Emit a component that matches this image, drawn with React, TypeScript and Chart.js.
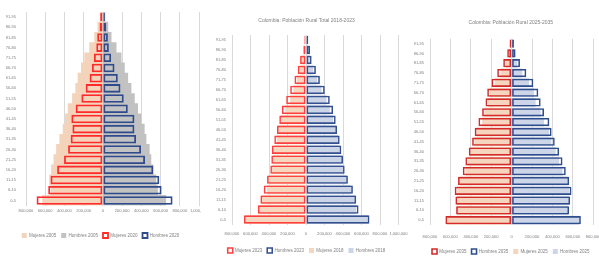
import React, { useEffect, useRef } from "react";
import { Chart, registerables } from "chart.js";

Chart.register(...registerables);

// ---------- shared categories (ascending, bottom to top) ----------
const AGE_GROUPS = [
  "0-5", "6-10", "11-15", "16-20", "21-25", "26-30", "31-35", "36-40", "41-45",
  "46-50", "51-55", "56-60", "61-65", "66-70", "71-75", "76-80", "81-85", "86-90", "91-95",
];

// ---------- chart 1 ----------
const C1_TITLE = "Colombia: Población Rural 2005-2020";
const C1_SERIES = ["Mujeres 2005", "Hombres 2005", "Mujeres 2020", "Hombres 2020"];
const C1_FILL_WOMEN = [628000, 540000, 555000, 535000, 510000, 483000, 449000, 414000, 390000, 362000, 317000, 283000, 259000, 224000, 190000, 138000, 86000, 52000, 24000];
const C1_FILL_MEN = [655000, 569000, 552000, 524000, 500000, 483000, 449000, 431000, 397000, 362000, 328000, 293000, 259000, 224000, 190000, 138000, 86000, 52000, 21000];
const C1_LINE_WOMEN = [690000, 569000, 545000, 476000, 404000, 362000, 335000, 317000, 328000, 283000, 224000, 179000, 138000, 114000, 93000, 69000, 59000, 35000, 28000];
const C1_LINE_MEN = [725000, 611000, 587000, 524000, 438000, 397000, 345000, 328000, 328000, 259000, 217000, 183000, 155000, 121000, 86000, 62000, 52000, 35000, 21000];

// ---------- chart 2 ----------
const C2_TITLE = "Colombia: Población Rural Total 2018-2023";
const C2_SERIES = ["Mujeres 2023", "Hombres 2023", "Mujeres 2018", "Hombres 2018"];
const C2_LINE_WOMEN = [671000, 521000, 493000, 457000, 421000, 386000, 375000, 368000, 343000, 314000, 289000, 261000, 214000, 171000, 125000, 89000, 64000, 29000, 18000];
const C2_LINE_MEN = [686000, 568000, 543000, 507000, 453000, 418000, 400000, 382000, 364000, 336000, 321000, 293000, 257000, 203000, 150000, 107000, 61000, 43000, 25000];
const C2_FILL_WOMEN = [653000, 511000, 482000, 421000, 403000, 368000, 357000, 343000, 314000, 296000, 268000, 225000, 171000, 136000, 100000, 64000, 46000, 18000, 11000];
const C2_FILL_MEN = [668000, 543000, 536000, 489000, 436000, 400000, 382000, 364000, 346000, 321000, 293000, 257000, 221000, 168000, 121000, 79000, 43000, 25000, 14000];

// ---------- chart 3 ----------
const C3_TITLE = "Colombia: Población Rural 2025-2035";
const C3_SERIES = ["Mujeres 2035", "Hombres 2035", "Mujeres 2025", "Hombres 2025"];
const C3_LINE_WOMEN = [649000, 544000, 551000, 558000, 525000, 479000, 453000, 420000, 387000, 362000, 325000, 289000, 256000, 239000, 197000, 141000, 82000, 43000, 20000];
const C3_LINE_MEN = [679000, 564000, 574000, 587000, 564000, 531000, 499000, 466000, 423000, 392000, 370000, 318000, 285000, 262000, 213000, 144000, 82000, 39000, 23000];
const C3_FILL_WOMEN = [633000, 535000, 535000, 535000, 508000, 453000, 426000, 403000, 364000, 344000, 289000, 266000, 230000, 213000, 164000, 108000, 59000, 26000, 10000];
const C3_FILL_MEN = [663000, 554000, 564000, 564000, 548000, 499000, 466000, 433000, 390000, 367000, 318000, 285000, 236000, 220000, 171000, 105000, 56000, 23000, 13000];

const FONT_FAMILY = "'Liberation Sans', Arial, sans-serif";
const TEXT_COLOR = "#808080";

type Def = { label: string; values: number[]; women: boolean; fill: boolean; color: string };
type Cfg = {
  boxLeft: number; boxWidth: number;
  canvasLeft: number; canvasTop: number; w: number; h: number;
  pad: { left: number; right: number; top: number; bottom: number };
  titleText: string; titlePad: { top: number; bottom: number };
  yw: number; yPad: number; xh: number; xPad: number;
  min: number; max: number;
  legendPad: number;
  defs: Def[];
  fillBar: number; lineBar: number; lineWidth: number;
};

function Pyramid({ cfg }: { cfg: Cfg }) {
  const ref = useRef<HTMLCanvasElement>(null);
  useEffect(() => {
    const tickFont = { family: FONT_FAMILY, size: 4.1 };
    const legendFont = { family: FONT_FAMILY, size: 4.5 };
    const yFont = { family: FONT_FAMILY, size: 4 };
    const datasets = cfg.defs.map((d) => ({
      label: d.label,
      data: d.values.map((v) => (d.women ? -v : v)),
      backgroundColor: d.fill ? d.color : "rgba(0,0,0,0)",
      borderColor: d.color,
      borderWidth: d.fill ? 0 : cfg.lineWidth,
      borderSkipped: false as const,
      grouped: false,
      categoryPercentage: 1,
      barPercentage: d.fill ? cfg.fillBar : cfg.lineBar,
      order: d.fill ? 2 : 1,
    }));
    const chart = new Chart(ref.current!, {
      type: "bar",
      data: { labels: AGE_GROUPS, datasets },
      options: {
        indexAxis: "y",
        responsive: false,
        animation: false,
        devicePixelRatio: 1,
        layout: { padding: cfg.pad },
        scales: {
          x: {
            min: cfg.min,
            max: cfg.max,
            afterFit: (s: any) => { s.height = cfg.xh; s.paddingLeft = 0; s.paddingRight = 0; },
            ticks: {
              stepSize: 200000,
              autoSkip: false,
              maxRotation: 0,
              padding: cfg.xPad,
              font: tickFont,
              color: TEXT_COLOR,
              callback: (v: any) => Math.abs(Number(v)).toLocaleString("en-US"),
            },
            grid: { color: "#d9d9d9", drawTicks: false, lineWidth: 1 },
            border: { display: false },
          },
          y: {
            reverse: true,
            afterFit: (s: any) => { s.width = cfg.yw; },
            ticks: { autoSkip: false, padding: cfg.yPad, font: yFont, color: TEXT_COLOR },
            grid: { display: false, drawTicks: false },
            border: { display: false },
          },
        },
        plugins: {
          tooltip: { enabled: false },
          title: {
            display: true,
            text: cfg.titleText,
            color: TEXT_COLOR,
            font: { family: FONT_FAMILY, size: 5, weight: "normal" },
            padding: cfg.titlePad,
          },
          legend: {
            position: "bottom",
            labels: {
              boxWidth: 5,
              boxHeight: 5,
              padding: cfg.legendPad,
              color: TEXT_COLOR,
              font: legendFont,
              sort: (a: any, b: any) => a.datasetIndex - b.datasetIndex,
            },
          },
        },
      },
    });
    return () => chart.destroy();
  }, [cfg]);
  return (
    <div style={{ position: "absolute", left: cfg.boxLeft, top: 0, width: cfg.boxWidth, height: 256, overflow: "hidden" }}>
      <canvas
        ref={ref}
        width={cfg.w}
        height={cfg.h}
        style={{ position: "absolute", left: cfg.canvasLeft, top: cfg.canvasTop, width: cfg.w, height: cfg.h }}
      />
    </div>
  );
}

const CFG1: Cfg = {
  boxLeft: 0, boxWidth: 201, canvasLeft: 0, canvasTop: -4, w: 215, h: 252,
  pad: { left: 2, right: 16, top: 0, bottom: 0 },
  titleText: C1_TITLE, titlePad: { top: 0, bottom: 10 },
  yw: 24, yPad: 10, xh: 22.5, xPad: 2.5,
  min: -800000, max: 1000000, legendPad: 5,
  defs: [
    { label: C1_SERIES[0], values: C1_FILL_WOMEN, women: true, fill: true, color: "#f4d3bb" },
    { label: C1_SERIES[1], values: C1_FILL_MEN, women: false, fill: true, color: "#c2c2c2" },
    { label: C1_SERIES[2], values: C1_LINE_WOMEN, women: true, fill: false, color: "#ff2a2a" },
    { label: C1_SERIES[3], values: C1_LINE_MEN, women: false, fill: false, color: "#2f4b8c" },
  ],
  fillBar: 1, lineBar: 0.84, lineWidth: 1.8,
};

const CFG2: Cfg = {
  boxLeft: 201, boxWidth: 207, canvasLeft: 0, canvasTop: 0, w: 215, h: 263,
  pad: { left: 13.5, right: 17.5, top: 0, bottom: 0 },
  titleText: C2_TITLE, titlePad: { top: 17.5, bottom: 11.5 },
  yw: 17.5, yPad: 6, xh: 18.5, xPad: 6.5,
  min: -800000, max: 1000000, legendPad: 5,
  defs: [
    { label: C2_SERIES[0], values: C2_LINE_WOMEN, women: true, fill: false, color: "#ff4040" },
    { label: C2_SERIES[1], values: C2_LINE_MEN, women: false, fill: false, color: "#34508f" },
    { label: C2_SERIES[2], values: C2_FILL_WOMEN, women: true, fill: true, color: "#f5d6be" },
    { label: C2_SERIES[3], values: C2_FILL_MEN, women: false, fill: true, color: "#ccd5e7" },
  ],
  fillBar: 0.92, lineBar: 0.84, lineWidth: 1.6,
};

const CFG3: Cfg = {
  boxLeft: 408, boxWidth: 191, canvasLeft: 0, canvasTop: 0, w: 210, h: 264,
  pad: { left: 0, right: 4.4, top: 0, bottom: 0 },
  titleText: C3_TITLE, titlePad: { top: 19.5, bottom: 13.2 },
  yw: 22, yPad: 6, xh: 18.9, xPad: 9.6,
  min: -800000, max: 1000000, legendPad: 5,
  defs: [
    { label: C3_SERIES[0], values: C3_LINE_WOMEN, women: true, fill: false, color: "#d42a2a" },
    { label: C3_SERIES[1], values: C3_LINE_MEN, women: false, fill: false, color: "#2e4d8c" },
    { label: C3_SERIES[2], values: C3_FILL_WOMEN, women: true, fill: true, color: "#f5d5bd" },
    { label: C3_SERIES[3], values: C3_FILL_MEN, women: false, fill: true, color: "#cdd5e8" },
  ],
  fillBar: 0.92, lineBar: 0.84, lineWidth: 1.6,
};

export default function App() {
  return (
    <div style={{ position: "absolute", left: 0, top: 0, width: 599, height: 256, overflow: "hidden", background: "#fff" }}>
      <Pyramid cfg={CFG1} />
      <Pyramid cfg={CFG2} />
      <Pyramid cfg={CFG3} />
    </div>
  );
}
